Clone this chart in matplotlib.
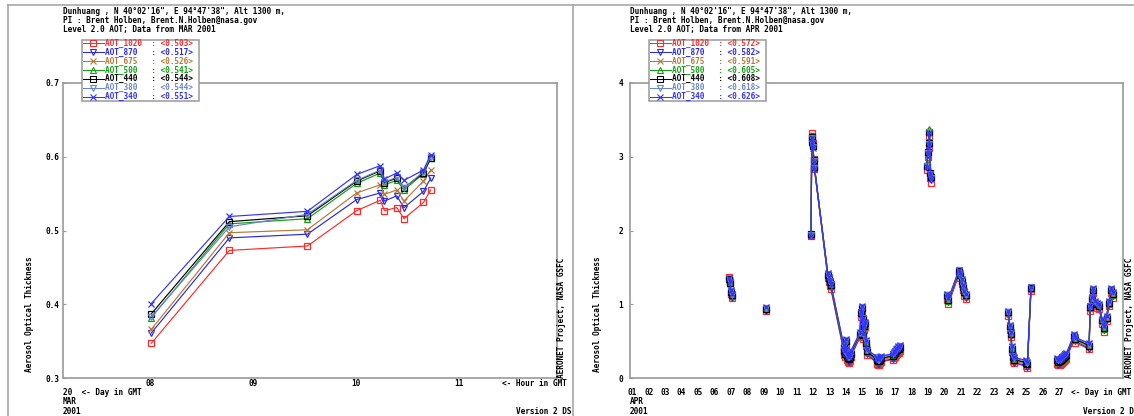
import numpy as np
import matplotlib
matplotlib.use("Agg")
import matplotlib.pyplot as plt
from matplotlib import transforms
from matplotlib.lines import Line2D
from matplotlib.patches import Rectangle

# AOT series, longest wavelength first
names = ["AOT_1020", "AOT_870", "AOT_675", "AOT_500", "AOT_440", "AOT_380", "AOT_340"]
colors = ["#ff2a2a", "#2a2ae6", "#b87838", "#10a010", "#000000", "#6a86c8", "#3333ff"]
markers = ["s", "v", "x", "^", "s", "v", "x"]

# --- 20 March 2001, hour of day (GMT) ---
mar_hour = [8.01, 8.77, 9.53, 10.01, 10.24, 10.28, 10.40, 10.47, 10.66, 10.73]
mar_1020 = [0.347, 0.473, 0.479, 0.527, 0.541, 0.527, 0.531, 0.516, 0.538, 0.555]
mar_870 = [0.361, 0.490, 0.495, 0.542, 0.551, 0.540, 0.547, 0.531, 0.553, 0.571]
mar_675 = [0.366, 0.497, 0.501, 0.551, 0.562, 0.549, 0.555, 0.540, 0.567, 0.582]
mar_500 = [0.382, 0.509, 0.516, 0.564, 0.578, 0.562, 0.568, 0.555, 0.577, 0.598]
mar_440 = [0.387, 0.512, 0.520, 0.567, 0.581, 0.565, 0.571, 0.558, 0.578, 0.598]
mar_380 = [0.383, 0.505, 0.522, 0.568, 0.582, 0.566, 0.572, 0.557, 0.580, 0.600]
mar_340 = [0.401, 0.519, 0.526, 0.576, 0.588, 0.570, 0.578, 0.568, 0.582, 0.603]
mar_avg = [0.503, 0.517, 0.526, 0.541, 0.544, 0.544, 0.551]

# --- April 2001, day of month + fraction (GMT) ---
apr_day = [
    7.02, 7.08, 7.14, 7.20,
    9.30,
    12.02, 12.06, 12.10, 12.14, 12.18, 12.22,
    13.04, 13.10, 13.16, 13.22,
    14.00, 14.04, 14.08, 14.12, 14.16, 14.20, 14.25, 14.30, 14.36, 14.42,
    15.00, 15.05, 15.10, 15.15, 15.20, 15.25, 15.30, 15.36, 15.42,
    16.00, 16.06, 16.12, 16.18, 16.24, 16.30,
    17.02, 17.08, 17.14, 17.20, 17.26, 17.32, 17.38, 17.44,
    19.06, 19.12, 19.18, 19.22, 19.28, 19.34,
    20.32, 20.38,
    21.02, 21.10, 21.18, 21.26, 21.34, 21.42,
    24.02, 24.10, 24.18, 24.24, 24.30, 24.36,
    25.10, 25.18, 25.40,
    27.00, 27.07, 27.14, 27.21, 27.28, 27.35, 27.42, 27.49, 27.56,
    28.02, 28.10, 28.94,
    29.00, 29.10, 29.20, 29.30, 29.42, 29.56, 29.72, 29.86, 30.00, 30.14, 30.28, 30.42,
]
apr_1020 = [
    1.37, 1.30, 1.14, 1.08,
    0.91,
    1.93, 3.32, 3.24, 3.18, 2.97, 2.84,
    1.35, 1.30, 1.25, 1.21,
    0.37, 0.31, 0.28, 0.45, 0.31, 0.25, 0.22, 0.21, 0.23, 0.28,
    0.55, 0.83, 0.90, 0.75, 0.53, 0.65, 0.69, 0.43, 0.31,
    0.21, 0.19, 0.18, 0.18, 0.20, 0.22,
    0.25, 0.27, 0.29, 0.31, 0.33, 0.35, 0.34, 0.37,
    2.82, 3.00, 3.12, 3.28, 2.71, 2.65,
    1.06, 1.00,
    1.40, 1.35, 1.27, 1.19, 1.11, 1.07,
    0.84, 0.65, 0.55, 0.35, 0.23, 0.20,
    0.16, 0.14, 1.18,
    0.19, 0.17, 0.18, 0.19, 0.21, 0.22, 0.23, 0.25, 0.26,
    0.52, 0.48, 0.39,
    0.91, 1.03, 1.15, 0.97, 0.95, 0.93, 0.73, 0.63, 0.77, 0.97, 1.15, 1.09,
]
apr_870 = [
    1.33, 1.27, 1.14, 1.09,
    0.91,
    1.93, 3.28, 3.21, 3.15, 2.96, 2.87,
    1.37, 1.32, 1.27, 1.23,
    0.38, 0.32, 0.29, 0.47, 0.32, 0.26, 0.23, 0.22, 0.24, 0.29,
    0.57, 0.85, 0.92, 0.77, 0.55, 0.67, 0.71, 0.44, 0.32,
    0.22, 0.20, 0.19, 0.19, 0.21, 0.23,
    0.26, 0.28, 0.30, 0.32, 0.34, 0.36, 0.35, 0.38,
    2.85, 3.03, 3.15, 3.31, 2.75, 2.69,
    1.09, 1.03,
    1.42, 1.37, 1.29, 1.21, 1.13, 1.09,
    0.86, 0.67, 0.57, 0.36, 0.24, 0.21,
    0.17, 0.15, 1.19,
    0.20, 0.18, 0.19, 0.20, 0.22, 0.23, 0.24, 0.26, 0.27,
    0.54, 0.50, 0.40,
    0.93, 1.05, 1.17, 0.99, 0.97, 0.95, 0.75, 0.65, 0.79, 0.99, 1.17, 1.11,
]
apr_675 = [
    1.33, 1.28, 1.15, 1.10,
    0.92,
    1.95, 3.29, 3.22, 3.16, 2.97, 2.88,
    1.38, 1.33, 1.28, 1.24,
    0.40, 0.34, 0.31, 0.48, 0.34, 0.28, 0.25, 0.24, 0.26, 0.31,
    0.58, 0.86, 0.93, 0.78, 0.56, 0.68, 0.72, 0.46, 0.34,
    0.24, 0.22, 0.21, 0.21, 0.23, 0.25,
    0.28, 0.30, 0.32, 0.34, 0.36, 0.38, 0.37, 0.40,
    2.87, 3.05, 3.17, 3.33, 2.77, 2.71,
    1.10, 1.04,
    1.43, 1.38, 1.30, 1.22, 1.14, 1.10,
    0.87, 0.68, 0.58, 0.38, 0.26, 0.23,
    0.19, 0.17, 1.20,
    0.22, 0.20, 0.21, 0.22, 0.24, 0.25, 0.26, 0.28, 0.29,
    0.55, 0.51, 0.42,
    0.94, 1.06, 1.18, 1.00, 0.98, 0.96, 0.76, 0.66, 0.80, 1.00, 1.18, 1.12,
]
apr_500 = [
    1.35, 1.29, 1.17, 1.11,
    0.94,
    1.96, 3.28, 3.21, 3.15, 2.96, 2.87,
    1.40, 1.34, 1.30, 1.25,
    0.42, 0.35, 0.33, 0.50, 0.35, 0.30, 0.26, 0.26, 0.27, 0.33,
    0.60, 0.88, 0.95, 0.79, 0.58, 0.70, 0.73, 0.48, 0.35,
    0.25, 0.24, 0.22, 0.23, 0.24, 0.27,
    0.30, 0.31, 0.34, 0.35, 0.38, 0.39, 0.39, 0.41,
    2.91, 3.09, 3.21, 3.37, 2.81, 2.75,
    1.12, 1.05,
    1.45, 1.39, 1.32, 1.23, 1.16, 1.11,
    0.89, 0.70, 0.59, 0.40, 0.27, 0.25,
    0.21, 0.19, 1.22,
    0.24, 0.22, 0.22, 0.24, 0.26, 0.26, 0.28, 0.29, 0.31,
    0.57, 0.52, 0.44,
    0.96, 1.07, 1.20, 1.01, 1.00, 0.97, 0.78, 0.67, 0.82, 1.01, 1.20, 1.13,
]
apr_440 = [
    1.34, 1.29, 1.17, 1.12,
    0.94,
    1.95, 3.27, 3.20, 3.14, 2.95, 2.86,
    1.40, 1.35, 1.30, 1.26,
    0.42, 0.36, 0.33, 0.50, 0.36, 0.30, 0.27, 0.26, 0.28, 0.33,
    0.60, 0.88, 0.95, 0.80, 0.58, 0.70, 0.74, 0.48, 0.36,
    0.26, 0.24, 0.23, 0.23, 0.25, 0.27,
    0.30, 0.32, 0.34, 0.36, 0.38, 0.40, 0.39, 0.42,
    2.88, 3.06, 3.18, 3.34, 2.78, 2.72,
    1.12, 1.06,
    1.45, 1.40, 1.32, 1.24, 1.16, 1.12,
    0.89, 0.70, 0.60, 0.40, 0.28, 0.25,
    0.21, 0.19, 1.22,
    0.24, 0.22, 0.23, 0.24, 0.26, 0.27, 0.28, 0.30, 0.31,
    0.57, 0.53, 0.44,
    0.96, 1.08, 1.20, 1.02, 1.00, 0.98, 0.78, 0.68, 0.82, 1.02, 1.20, 1.14,
]
apr_380 = [
    1.35, 1.30, 1.18, 1.13,
    0.95,
    1.94, 3.26, 3.19, 3.13, 2.94, 2.85,
    1.41, 1.36, 1.31, 1.27,
    0.44, 0.38, 0.35, 0.51, 0.38, 0.32, 0.29, 0.28, 0.30, 0.35,
    0.61, 0.89, 0.96, 0.81, 0.59, 0.71, 0.75, 0.50, 0.38,
    0.28, 0.26, 0.25, 0.25, 0.27, 0.29,
    0.32, 0.34, 0.36, 0.38, 0.40, 0.42, 0.41, 0.44,
    2.87, 3.05, 3.17, 3.33, 2.77, 2.71,
    1.13, 1.07,
    1.46, 1.41, 1.33, 1.25, 1.17, 1.13,
    0.90, 0.71, 0.61, 0.42, 0.30, 0.27,
    0.23, 0.21, 1.23,
    0.26, 0.24, 0.25, 0.26, 0.28, 0.29, 0.30, 0.32, 0.33,
    0.58, 0.54, 0.46,
    0.97, 1.09, 1.21, 1.03, 1.01, 0.99, 0.79, 0.69, 0.83, 1.03, 1.21, 1.15,
]
apr_340 = [
    1.36, 1.31, 1.19, 1.14,
    0.96,
    1.93, 3.25, 3.18, 3.12, 2.93, 2.84,
    1.42, 1.37, 1.32, 1.28,
    0.45, 0.39, 0.36, 0.53, 0.39, 0.33, 0.30, 0.29, 0.31, 0.36,
    0.62, 0.90, 0.97, 0.82, 0.60, 0.72, 0.76, 0.51, 0.39,
    0.29, 0.27, 0.26, 0.26, 0.28, 0.30,
    0.33, 0.35, 0.37, 0.39, 0.41, 0.43, 0.42, 0.45,
    2.86, 3.04, 3.16, 3.32, 2.76, 2.70,
    1.14, 1.08,
    1.47, 1.42, 1.34, 1.26, 1.18, 1.14,
    0.91, 0.72, 0.62, 0.43, 0.31, 0.28,
    0.24, 0.22, 1.24,
    0.27, 0.25, 0.26, 0.27, 0.29, 0.30, 0.31, 0.33, 0.34,
    0.59, 0.55, 0.47,
    0.98, 1.10, 1.22, 1.04, 1.02, 1.00, 0.80, 0.70, 0.84, 1.04, 1.22, 1.16,
]
apr_avg = [0.572, 0.582, 0.591, 0.605, 0.608, 0.618, 0.626]

mar_series = [mar_1020, mar_870, mar_675, mar_500, mar_440, mar_380, mar_340]
apr_series = [apr_1020, apr_870, apr_675, apr_500, apr_440, apr_380, apr_340]

header = [
    "Dunhuang , N 40\u00b002'16\", E 94\u00b047'38\", Alt 1300 m,",
    "PI : Brent Holben, Brent.N.Holben@nasa.gov",
]

W, H = 1134, 416
FS = 5.6
GRAY = "#a0a0a0"
plt.rcParams["font.family"] = "DejaVu Sans Mono"
plt.rcParams["font.weight"] = "bold"

fig = plt.figure(figsize=(W / 100, H / 100), dpi=100)
fig.patch.set_facecolor("white")
# pixel coordinates, origin at top-left
px = transforms.Affine2D().scale(1 / W, -1 / H).translate(0, 1) + fig.transFigure


def ftext(x, y, s, **kw):
    kw.setdefault("fontsize", FS)
    kw.setdefault("va", "center")
    kw.setdefault("ha", "left")
    return fig.text(x, y, s, transform=px, **kw)


def fline(xs, ys, **kw):
    fig.add_artist(Line2D(xs, ys, transform=px, **kw))


def plot_series(ax, x, series, gap=None):
    for y, c, m in zip(series, colors, markers):
        xs = np.asarray(x, float)
        ys = np.asarray(y, float)
        if gap is not None:
            brk = np.where(np.diff(xs) > gap)[0] + 1
            xs = np.insert(xs, brk, np.nan)
            ys = np.insert(ys, brk, np.nan)
        ax.plot(xs, ys, color=c, lw=0.85, marker=m, ms=4.0,
                mfc="none", mec=c, mew=0.9, clip_on=False)


def style_axes(ax, ypad, xpad):
    for sp in ax.spines.values():
        sp.set_color("#9a9a9a")
        sp.set_linewidth(1.2)
    ax.tick_params(axis="y", direction="in", length=2.5, width=0.8,
                   color="#9a9a9a", labelsize=FS, pad=ypad)
    ax.tick_params(axis="x", length=0, labelsize=FS, pad=xpad)


def draw_legend(x0, avgs):
    fig.add_artist(Rectangle((x0, 40), 117.6, 60.7, transform=px, fc="white",
                             ec="#9a9a9a", lw=1.1, zorder=5))
    for i, (n, c, m, a) in enumerate(zip(names, colors, markers, avgs)):
        y = 43.3 + i * 8.9
        fline([x0 + 1, x0 + 22], [y, y], color=c, lw=0.75, zorder=6)
        fline([x0 + 11.5], [y], marker=m, ms=3.8, mfc="none", mec=c,
              mew=0.8, ls="none", zorder=6)
        ftext(x0 + 23.5, y, f"{n:<10}: <{a:.3f}>", color=c, zorder=7)


def draw_panel(left, month, avgs):
    # header, side notes and legend shared by both panels
    for i, line in enumerate(header + [f"Level 2.0 AOT; Data from {month} 2001"]):
        ftext(left, 12 + i * 8.8, line)
    ftext(left - 33, 372, "Aerosol Optical Thickness", rotation=90,
          ha="center", va="bottom")
    ftext(left + 499, 378, "AERONET Project, NASA GSFC", rotation=90,
          ha="center", va="bottom")
    ftext(left, 401.5, month)
    ftext(left, 411, "2001")
    ftext(left + 453, 411, "Version 2 DS")
    draw_legend(left + 18.5, avgs)


# outer frame
fline([8, 8], [416, 5], color=GRAY, lw=1.1)
fline([8, W], [5, 5], color=GRAY, lw=1.1)
fline([573, 573], [5, 416], color=GRAY, lw=1.1)

# left panel: one day, by hour
ax1 = fig.add_axes([63 / W, 1 - 378 / H, 494 / W, 295 / H])
plot_series(ax1, mar_hour, mar_series)
ax1.set_xlim(7.15, 11.96)
ax1.set_ylim(0.3, 0.7)
ax1.set_yticks([0.3, 0.4, 0.5, 0.6, 0.7])
ax1.set_yticklabels(["0.3", "0.4", "0.5", "0.6", "0.7"])
ax1.set_xticks([8, 9, 10, 11])
ax1.set_xticklabels(["08", "09", "10", "11"])
style_axes(ax1, 2.5, 1.0)
ftext(502, 383, "<- Hour in GMT")
ftext(63, 392.5, "20  <- Day in GMT")
draw_panel(63, "MAR", mar_avg)

# right panel: whole month, by day
ax2 = fig.add_axes([630 / W, 1 - 378 / H, 493 / W, 295 / H])
plot_series(ax2, apr_day, apr_series, gap=0.9)
ax2.set_xlim(1, 31)
ax2.set_ylim(0, 4)
ax2.set_yticks([0, 1, 2, 3, 4])
ax2.set_yticklabels(["0", "1", "2", "3", "4"])
day_ticks = np.arange(1, 28)
ax2.set_xticks(day_ticks + 0.14)
ax2.set_xticklabels([f"{d:02d}" for d in day_ticks])
style_axes(ax2, 5.0, 7.5)
ftext(1071, 392.5, "<- Day in GMT")
draw_panel(630, "APR", apr_avg)

fig.savefig("out.png", dpi=100)
